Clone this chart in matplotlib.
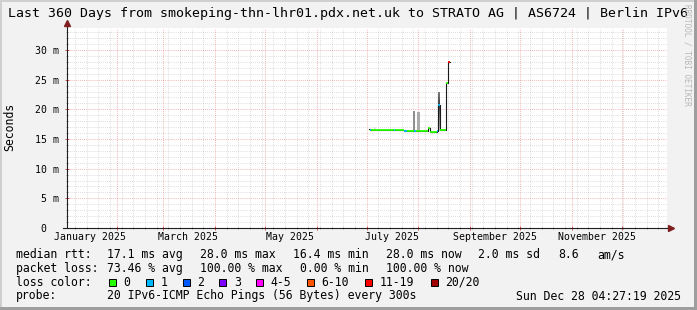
import matplotlib
matplotlib.use("Agg")
import matplotlib.pyplot as plt
import matplotlib.dates as mdates
import pandas as pd
from matplotlib.ticker import MultipleLocator, FuncFormatter, NullFormatter
from matplotlib.transforms import blended_transform_factory
from matplotlib.patches import Rectangle

W, H = 697, 310
MONO = "DejaVu Sans Mono"

# --- values ---
t_start = "2025-01-02 04:27:19"
t_end = "2025-12-28 04:27:19"

# median rtt (ms) as steps, with lost pings out of 20 (None = no colour)
seg_start = ["2025-07-02 04:00", "2025-07-03 00:00", "2025-07-03 18:00", "2025-07-17 04:00",
             "2025-07-18 04:00", "2025-07-23 04:00", "2025-07-25 04:00", "2025-07-29 14:00",
             "2025-07-30 14:00", "2025-08-06 23:00", "2025-08-07 23:00", "2025-08-11 23:00",
             "2025-08-12 12:00", "2025-08-14 06:00", "2025-08-17 09:00", "2025-08-18 12:00"]
seg_stop = "2025-08-19 23:00"
seg_median = [16.6, 16.5, 16.5, 16.5, 16.5, 16.4, 16.3, 16.3,
              16.4, 16.8, 16.2, 16.3, 20.8, 16.5, 24.4, 28.0]
seg_loss = [None, 1, 0, 1, 0, 1, 0, 1, 0, 0, 0, 1, 1, 0, 0, 15]

# smoke (spread of the pings)
smoke_start = ["2025-07-05 14:00", "2025-07-28 19:00", "2025-07-31 09:00", "2025-08-12 12:00"]
smoke_stop = ["2025-07-06 18:00", "2025-07-29 23:00", "2025-08-01 23:00", "2025-08-14 06:00"]
smoke_lo = [16.5, 16.3, 16.4, 16.3]
smoke_hi = [17.0, 19.7, 19.6, 23.0]
smoke_mid = [16.5, 16.3, 16.4, 20.8]
smoke_count = [1, 4, 3, 12]

loss_labels = ["0", "1", "2", "3", "4-5", "6-10", "11-19", "20/20"]
loss_upper = [0, 1, 2, 3, 5, 10, 19, 20]
loss_colors = ["#26ff00", "#00b8ff", "#0059ff", "#7e00ff", "#ff00ff", "#ff5500", "#ff0000", "#a10000"]

month_labels = ["January 2025", "March 2025", "May 2025", "July 2025", "September 2025", "November 2025"]
month_label_at = ["2025-01-16", "2025-03-16", "2025-05-16", "2025-07-16", "2025-09-16", "2025-11-16"]


def num(s):
    return mdates.date2num(pd.to_datetime(s))


def loss_color(n):
    for up, c in zip(loss_upper, loss_colors):
        if n <= up:
            return c
    return loss_colors[-1]


def fx(x):
    return x / W


def fy(y):
    return 1 - y / H


fig = plt.figure(figsize=(W / 100, H / 100), dpi=100, facecolor="#f2f2f2")

# 3d frame
fig.add_artist(Rectangle((0, fy(2)), 1, 2 / H, transform=fig.transFigure, color="#cfcfcf", lw=0))
fig.add_artist(Rectangle((0, 0), 2 / W, 1, transform=fig.transFigure, color="#cfcfcf", lw=0))
fig.add_artist(Rectangle((fx(694), 0), 3 / W, 1, transform=fig.transFigure, color="#9e9e9e", lw=0))
fig.add_artist(Rectangle((0, 0), 1, 3 / H, transform=fig.transFigure, color="#9e9e9e", lw=0))

ax = fig.add_axes([fx(67), 82 / H, 600 / W, 200 / H])
ax.set_facecolor("white")
for s in ax.spines.values():
    s.set_visible(False)

ax.set_xlim(num(t_start), num(t_end))
ax.set_ylim(0, 33.7)

ax.xaxis.set_major_locator(mdates.MonthLocator())
ax.xaxis.set_minor_locator(mdates.WeekdayLocator(byweekday=mdates.TU))
ax.xaxis.set_major_formatter(NullFormatter())
ax.yaxis.set_major_locator(MultipleLocator(5))
ax.yaxis.set_minor_locator(MultipleLocator(1))
ax.yaxis.set_major_formatter(FuncFormatter(lambda v, p: "0  " if v == 0 else f"{v:.0f} m"))

ax.grid(which="minor", color="#8f8f8f", alpha=0.4, lw=0.6, ls=(0, (1, 1.5)))
ax.grid(which="major", color="#de4f4f", alpha=0.55, lw=0.6, ls=(0, (1, 1.5)))
ax.set_axisbelow(True)

ax.tick_params(which="major", direction="inout", length=3, width=0.7, color="#de4f4f")
ax.tick_params(which="minor", direction="inout", length=2, width=0.6, color="#8f8f8f")
ax.tick_params(axis="y", which="major", pad=4.3, labelsize=7.1)
for lab in ax.get_yticklabels():
    lab.set_family(MONO)

# smoke
for a, b, lo, hi, mid, c in zip(smoke_start, smoke_stop, smoke_lo, smoke_hi, smoke_mid, smoke_count):
    depth = min(0.75, 0.11 * c)
    grad = 0.7 if c >= 8 else 0.0
    n = 14
    for k in range(n):
        y0 = lo + (hi - lo) * k / n
        y1 = lo + (hi - lo) * (k + 1) / n
        yc = (y0 + y1) / 2
        span = max(hi - mid, mid - lo, 1e-6)
        d = abs(yc - mid) / span
        level = 1 - depth * (1 - grad * d)
        ax.fill_between([num(a), num(b)], y0, y1, color=str(level), lw=0)

# median: black steps underneath, loss colours on top
xs = [num(s) for s in seg_start] + [num(seg_stop)]
ys = seg_median + [seg_median[-1]]
ax.step(xs, ys, where="post", color="#1a1a1a", lw=0.8)
for i, (m, l) in enumerate(zip(seg_median, seg_loss)):
    if l is None:
        continue
    ax.hlines(m, xs[i], xs[i + 1], color=loss_color(l), lw=1.3)

# axes with arrows
ax.plot([-0.006, 1.01], [0, 0], transform=ax.transAxes, color="#1f1f1f", lw=0.8, clip_on=False)
ax.plot([0, 0], [0, 1.035], transform=ax.transAxes, color="#1f1f1f", lw=0.8, clip_on=False)
ax.plot(1.006, 0, marker=">", ms=4, color="#801f1f", transform=ax.transAxes, clip_on=False)
ax.plot(0, 1.025, marker="^", ms=4, color="#801f1f", transform=ax.transAxes, clip_on=False)

# month labels
tr = blended_transform_factory(ax.transData, fig.transFigure)
for lab, d in zip(month_labels, month_label_at):
    ax.text(num(d), fy(237.5), lab, transform=tr, ha="center", va="center",
            fontsize=7.1, family=MONO, clip_on=False)

# titles
fig.text(0.5, fy(14), "Last 360 Days from smokeping-thn-lhr01.pdx.net.uk to STRATO AG | AS6724 | Berlin IPv6",
         ha="center", va="center", fontsize=9.5, family=MONO)
fig.text(fx(10), fy(127), "Seconds", rotation=90, ha="center", va="center", fontsize=8.3, family=MONO)
fig.text(fx(687), fy(4), "RRDTOOL / TOBI OETIKER", rotation=270, ha="center", va="top",
         fontsize=5.6, family=MONO, color="#b8b8b8")

# legend
fs = 8.3
rows = [254.7, 268.2, 282, 296]
line1 = [(16, "median rtt:"), (107.3, "17.1 ms avg"), (200, "28.0 ms max"), (292.7, "16.4 ms min"),
         (386, "28.0 ms now"), (478, "2.0 ms sd"), (558.3, "8.6"), (597, "am/s")]
line2 = [(16, "packet loss:"), (107.3, "73.46 % avg"), (200, "100.00 % max"), (300, "0.00 % min"),
         (386, "100.00 % now")]
for x, t in line1:
    fig.text(fx(x), fy(rows[0]), t, ha="left", va="center", fontsize=fs, family=MONO)
for x, t in line2:
    fig.text(fx(x), fy(rows[1]), t, ha="left", va="center", fontsize=fs, family=MONO)

fig.text(fx(16), fy(rows[2]), "loss color:", ha="left", va="center", fontsize=fs, family=MONO)
box_x = [108.7, 145.7, 182.7, 219.3, 256, 306.7, 365, 430.7]
for bx, lab, col in zip(box_x, loss_labels, loss_colors):
    fig.add_artist(Rectangle((fx(bx), fy(rows[2] + 3.5)), 7 / W, 7 / H, transform=fig.transFigure,
                             facecolor=col, edgecolor="black", lw=0.7))
    fig.text(fx(bx + 14.6), fy(rows[2]), lab, ha="left", va="center", fontsize=fs, family=MONO)

fig.text(fx(16), fy(rows[3]), "probe:", ha="left", va="center", fontsize=fs, family=MONO)
fig.text(fx(107.3), fy(rows[3]), "20 IPv6-ICMP Echo Pings (56 Bytes) every 300s",
         ha="left", va="center", fontsize=fs, family=MONO)
fig.text(fx(681), fy(rows[3]), "Sun Dec 28 04:27:19 2025", ha="right", va="center", fontsize=fs, family=MONO)

fig.savefig("out.png", dpi=100, facecolor=fig.get_facecolor())
